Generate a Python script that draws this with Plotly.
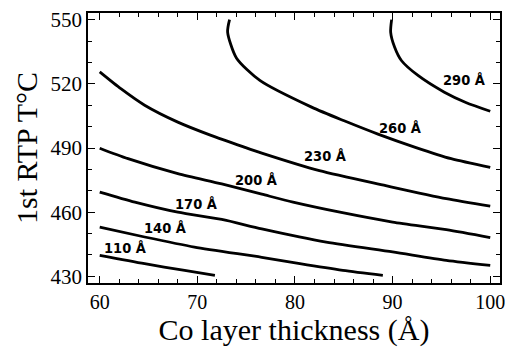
import plotly.graph_objects as go

# Contour lines (Co layer thickness in Å, 1st RTP temperature in °C)
levels = ["110 Å", "140 Å", "170 Å", "200 Å", "230 Å", "260 Å", "290 Å"]

x_110 = [60, 64.6, 68.7, 71.8]
y_110 = [439.8, 435.9, 432.8, 430.5]

x_140 = [60, 64.6, 69.7, 76.6, 80.5, 84.9, 89.0]
y_140 = [453.0, 448.4, 443.7, 438.9, 435.9, 432.8, 430.5]

x_170 = [60, 63.6, 68.0, 72.5, 76.6, 83.2, 90.0, 95.5, 100]
y_170 = [469.4, 464.7, 460.0, 456.6, 452.2, 446.0, 441.4, 437.5, 435.1]

x_200 = [60, 62.9, 68.0, 72.5, 76.6, 79.8, 84.6, 90.0, 95.5, 100]
y_200 = [489.9, 485.0, 478.0, 473.2, 468.4, 464.7, 460.0, 455.4, 451.8, 448.1]

x_230 = [60, 62.2, 64.6, 68.0, 71.4, 74.8, 76.6, 82.5, 89.3, 95.5, 100]
y_230 = [525.6, 517.6, 510.0, 502.1, 495.9, 490.4, 487.6, 479.4, 472.4, 466.3, 462.8]

x_260 = [73.3, 73.1, 74.0, 76.4, 81.7, 85.1, 88.5, 92.4, 96.0, 100]
y_260 = [550, 544.2, 532.1, 521.6, 509.1, 502.6, 496.5, 490.2, 485.0, 480.9]

x_290 = [89.9, 89.8, 90.2, 90.9, 92.6, 95.3, 97.5, 100]
y_290 = [550, 544.2, 537.2, 530.9, 523.9, 516.1, 511.3, 507.2]

# Label positions
label_x = [62.6, 66.7, 69.9, 76.1, 83.1, 90.8, 97.4]
label_y = [443.3, 452.7, 463.6, 474.9, 486.3, 499.3, 522.0]

lines_x = [x_110, x_140, x_170, x_200, x_230, x_260, x_290]
lines_y = [y_110, y_140, y_170, y_200, y_230, y_260, y_290]

fig = go.Figure()
for name, xs, ys in zip(levels, lines_x, lines_y):
    fig.add_trace(go.Scatter(x=xs, y=ys, mode="lines", name=name,
                             line=dict(color="black", width=2.8, shape="spline", smoothing=0.7),
                             showlegend=False, hoverinfo="skip"))

for txt, lx, ly in zip(levels, label_x, label_y):
    fig.add_annotation(x=lx, y=ly, text="<b>" + txt + "</b>", showarrow=False,
                       font=dict(family="DejaVu Sans Condensed, Liberation Sans Narrow, Liberation Sans",
                                 size=14.5, color="black"),
                       xanchor="center", yanchor="middle")

serif = "Liberation Serif, Times New Roman, serif"
fig.update_layout(
    width=505, height=354,
    margin=dict(l=88, r=5, t=13, b=71),
    paper_bgcolor="white", plot_bgcolor="white",
    font=dict(family=serif, color="black"),
)
fig.update_xaxes(
    range=[58.8, 101.0], tickvals=[60, 70, 80, 90, 100], automargin=False,
    ticklabeloverflow="allow",
    ticks="inside", ticklen=7, tickwidth=1.2, tickcolor="black",
    minor=dict(dtick=2, tick0=60, ticks="inside", ticklen=4, tickwidth=1, tickcolor="black"),
    showline=True, linecolor="black", linewidth=1.5, mirror="allticks",
    showgrid=False, zeroline=False,
    tickfont=dict(family=serif, size=20),
    title=dict(text="Co layer thickness (Å)", font=dict(family=serif, size=30), standoff=4),
)
fig.update_yaxes(
    range=[426.9, 553.1], tickvals=[430, 460, 490, 520, 550], automargin=False,
    ticklabeloverflow="allow",
    ticks="inside", ticklen=7, tickwidth=1.2, tickcolor="black",
    minor=dict(dtick=10, tick0=430, ticks="inside", ticklen=4, tickwidth=1, tickcolor="black"),
    showline=True, linecolor="black", linewidth=1.5, mirror="allticks",
    showgrid=False, zeroline=False,
    tickfont=dict(family=serif, size=21),
    title=dict(text="1st RTP T°C", font=dict(family=serif, size=30), standoff=4),
)

fig.write_html("out.html", config={"displayModeBar": False},
               post_script="document.body.style.margin='0';document.body.style.overflow='hidden';")
